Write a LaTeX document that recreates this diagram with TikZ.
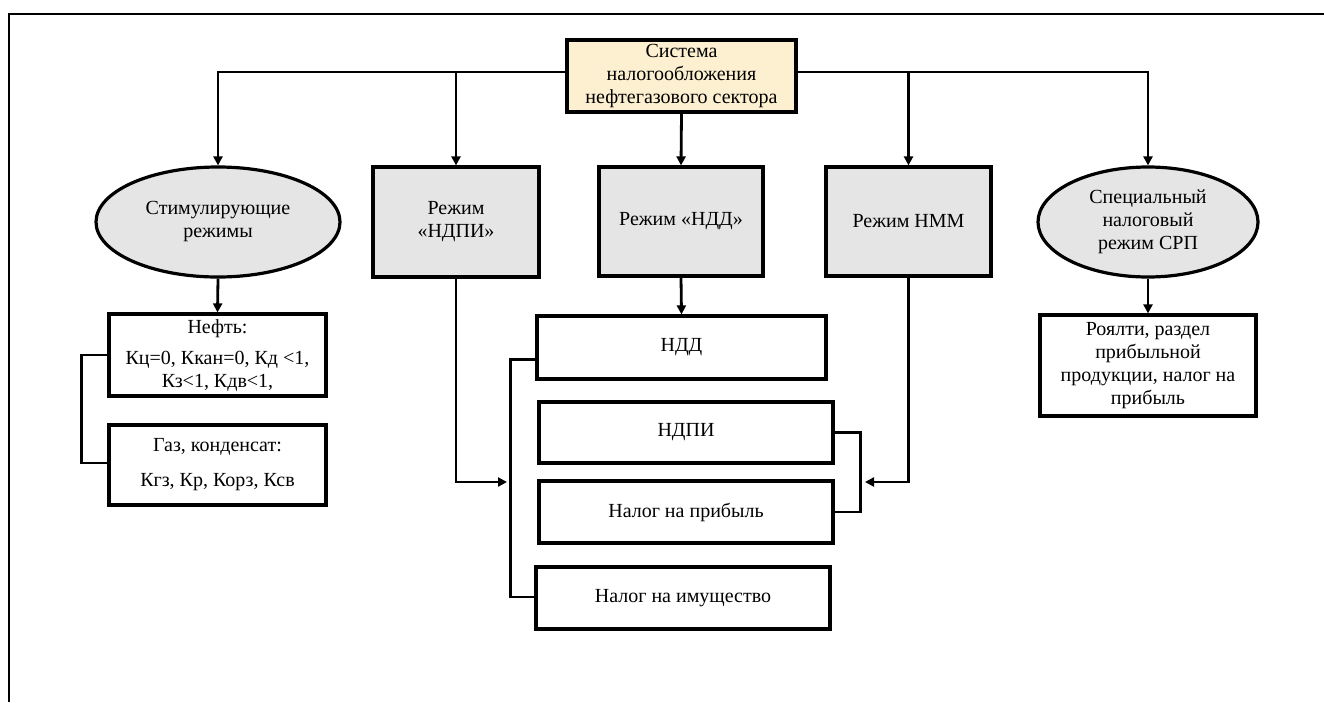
\documentclass[tikz,border=0pt]{standalone}
\usepackage{fontspec}
\setmainfont{Liberation Serif}
\usetikzlibrary{arrows.meta,shapes.geometric}
\definecolor{beige}{RGB}{253,240,209}
\definecolor{lgrey}{RGB}{229,229,229}
\begin{document}
\begin{tikzpicture}[x=1pt,y=-1pt,
  every node/.style={font=\fontsize{20}{23}\selectfont, align=center, inner sep=2pt},
  box/.style={draw, line width=3.2pt, rectangle},
  regbox/.style={box, fill=lgrey},
  ell/.style={draw, line width=3.2pt, ellipse, fill=lgrey, inner sep=0pt},
  conn/.style={line width=2.8pt},
  arr/.style={conn, -{Triangle[length=9pt,width=9pt]}}]
\useasboundingbox (0,0) rectangle (1324,702);
\draw[line width=2.4pt] (9,702) -- (9,14) -- (1324,14);

\node[box, fill=beige, minimum width=229pt, minimum height=72pt] (top) at (681.5,76)
  {Система\\налогообложения\\нефтегазового сектора};

\node[ell, minimum width=244pt, minimum height=110pt] (stim) at (218,222) {Стимулирующие\\режимы};
\node[regbox, minimum width=166pt, minimum height=110pt] (rndpi) at (456,222) {Режим\\«НДПИ»};
\node[regbox, minimum width=164pt, minimum height=109pt] (rndd) at (681,221.5) {Режим «НДД»};
\node[regbox, minimum width=165pt, minimum height=109pt] (rnmm) at (908.5,221.5) {Режим НММ};
\node[ell, minimum width=220pt, minimum height=110pt] (srp) at (1148,222) {Специальный\\налоговый\\режим СРП};

\node[box, minimum width=217pt, minimum height=82pt] (oil) at (217.5,355)
  {Нефть:\\[8pt] Кц=0, Ккан=0, Кд <1,\\ Кз<1, Кдв<1,};
\node[box, minimum width=217pt, minimum height=80pt] (gas) at (217.5,465)
  {Газ, конденсат:\\[12pt] Кгз, Кр, Корз, Ксв};

\node[box, minimum width=289pt, minimum height=63pt] (ndd) at (681.5,347.5) {НДД};
\node[box, minimum width=294pt, minimum height=61pt] (ndpi) at (686,432.5) {НДПИ};
\node[box, minimum width=294pt, minimum height=62pt] (prib) at (686,512) {Налог на прибыль};
\node[box, minimum width=294pt, minimum height=62pt] (imu) at (683,598) {Налог на имущество};

\node[box, minimum width=216pt, minimum height=101pt] (srpbox) at (1148,365.5)
  {Роялти, раздел\\прибыльной\\продукции, налог на\\прибыль};

\coordinate (jL) at (507,482);
\coordinate (jR) at (865,482);

% top connectors
\draw[arr] ([yshift=4pt]top.west) -| (stim.north);
\draw[arr] ([yshift=4pt]top.west) -| (rndpi.north);
\draw[arr] (top.south) -- (rndd.north);
\draw[arr] ([yshift=4pt]top.east) -| (rnmm.north);
\draw[arr] ([yshift=4pt]top.east) -| (srp.north);

% left branch
\draw[arr] (stim.south) -- (oil.north);
\draw[conn] (oil.west) -- ++(-26,0) |- ([yshift=2pt]gas.west);

% middle
\draw[arr] (rndd.south) -- (ndd.north);
\draw[conn] ([yshift=-12pt]ndd.west) -- ++(-25,0) |- ([yshift=1pt]imu.west);
\draw[conn] (ndpi.east) -- ++(26,0) |- (prib.east);
\draw[arr] (rndpi.south) |- (jL);
\draw[arr] (rnmm.south) |- (jR);

% right
\draw[arr] (srp.south) -- (srpbox.north);
\end{tikzpicture}
\end{document}
